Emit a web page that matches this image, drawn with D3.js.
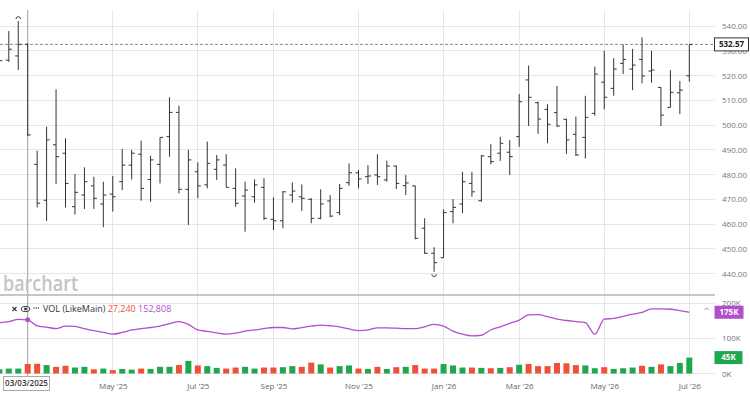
<!DOCTYPE html>
<html>
<head>
<meta charset="utf-8">
<script src="https://cdn.jsdelivr.net/npm/d3@7"></script>
<style>
    body { margin: 0; background: #fff; }
    svg { display: block; font-family: "Open Sans", sans-serif; }
</style>
</head>
<body>
<svg class="chart" width="750" height="393"></svg>
<script>
//
// Weekly OHLC bars with a volume study underneath, barchart style.
//

// One entry per weekly bar, first week starts Mon 10 Feb 2025, last Mon 6 Jul 2026.
var opens = [524, 526.2, 527.9, 532.6, 484.1, 469.6, 492, 488.6, 467, 471.7, 475.4, 468.1, 472.1, 477.1, 483.8, 488.2, 478, 484.1, 495.3, 505.1,
    474, 481.1, 475.8, 482.1, 483.8, 474.4, 471.3, 471, 474.8, 461.9, 461.3, 471.7, 471, 470, 462.3, 469.3, 464.6, 476.7, 480.7, 479.1,
    479.8, 477.8, 483.4, 475.5, 475.4, 458.3, 448.2, 446.4, 465, 468.1, 476.4, 469.4, 487.2, 488.6, 489, 495.3, 518.2, 509, 506.3, 505,
    502.3, 496.2, 495, 504.7, 517.3, 514.8, 524.9, 522.6, 526.5, 521.8, 515.2, 507.1, 513, 519.9];
var highs = [529, 538, 542, 533, 489.6, 499.3, 514.4, 494.6, 480.2, 482.9, 479.1, 477.1, 479.4, 490.3, 489.9, 493.7, 487.6, 495, 511.2, 507.8,
    490, 484.9, 493.3, 487.9, 488.2, 482.5, 477.1, 478, 478.5, 470.8, 473.3, 476.8, 476, 470.4, 474, 471.7, 476.2, 484.5, 481.8, 483.8,
    488.2, 485.6, 483.6, 479.8, 475.5, 462.3, 450.6, 465.9, 470.1, 481.1, 481.1, 487.9, 492.2, 495.3, 494, 512.5, 524, 509.4, 508.4, 515.8,
    502.5, 503.4, 511.8, 523.6, 530, 527, 532.6, 530.7, 535.4, 530, 515.2, 522.2, 517.8, 532.6];
var lows = [521, 525.5, 522.2, 495.5, 466.7, 461.2, 476.2, 466.7, 463.8, 466.1, 466.1, 458.7, 465, 473.7, 478, 469.4, 469, 476.4, 487.2, 472.4,
    459.6, 470.4, 474.4, 477.8, 474.8, 467, 456.9, 468.6, 461.6, 457.6, 458.3, 468.6, 465.3, 460.3, 461.9, 462.7, 463.6, 475.4, 474.4, 476.2,
    475.8, 477.1, 474.1, 471.7, 453.8, 447.9, 440.7, 446.4, 460.3, 464.3, 471, 469, 484.1, 485.5, 479.8, 491.2, 499.6, 496.4, 492.6, 499.3,
    488.3, 487.5, 486.5, 503.8, 506.3, 511.8, 520.6, 514.1, 516.8, 517.1, 499.6, 507.1, 504.4, 517.5];
var closes = [526, 530.6, 532.6, 496, 468.4, 494, 487.2, 476.4, 472.8, 477.1, 470.4, 471.7, 471, 483.8, 488.6, 474.4, 485.9, 495, 505.1, 474,
    485.9, 475.4, 484.5, 485.9, 474.8, 468.4, 473.7, 475.8, 462.3, 461.3, 473, 473.3, 470.4, 462.3, 468.1, 463.2, 474.4, 480.7, 478.2, 479.4,
    479.1, 483.4, 476.4, 476.6, 454.2, 448.2, 444.4, 464.6, 466.7, 477.1, 473, 487.5, 485.2, 492.6, 487.2, 509.4, 511.2, 502.4, 500.3, 499.6,
    494, 487.9, 503.1, 520.6, 511.2, 522.6, 526.5, 524.2, 519.8, 522.2, 504, 513.2, 514.1, 532.57];
var volumes = [12, 14, 14, 27.24, 27.6, 24, 19, 22, 17, 19, 12, 14, 9.5, 13, 11, 14, 13, 19, 19, 24,
    36, 23, 21, 16, 14, 17, 19, 14, 17, 17, 18, 21, 19, 31, 26, 17, 21, 23, 14, 13,
    19, 13, 18, 19, 24, 14, 14, 27, 23, 17, 17, 16, 15, 16, 18, 25, 27, 21, 21, 30,
    29, 24, 23, 15, 18, 13, 15, 17, 22, 19, 26, 21, 30, 45.3]; // thousands
var likeMain = [145, 148, 154, 152.808, 136, 132, 128, 135, 134, 128, 122, 117, 112, 117, 124, 128, 131, 135, 142, 148,
    140, 124, 120, 116, 112, 115, 121, 124, 128, 131, 131, 127, 131, 135, 138, 136, 133, 127, 122, 124,
    130, 130, 129, 128, 128, 133, 140, 135, 121, 112, 107, 109, 124, 133, 143, 152, 167, 168, 162, 155,
    151, 148, 145, 112, 155, 157, 163, 169, 174, 184, 184, 183, 179, 174.5]; // thousands

var priceTicks = [440, 450, 460, 470, 480, 490, 500, 510, 520, 530, 540];
var volumeTicks = [0, 100, 200];
var monthStarts = ["2025-05-01", "2025-07-01", "2025-09-01", "2025-11-01", "2026-01-01", "2026-03-01", "2026-05-01", "2026-07-01"];
var monthLabels = ["May '25", "Jul '25", "Sep '25", "Nov '25", "Jan '26", "Mar '26", "May '26", "Jul '26"];
var hoverIndex = 3; // The crosshair sits on the week of 03/03/2025.

var green = "#21a650", red = "#ef5138", purple = "#b14fcd";

window.onload = function () {

    var plotRight = 715; // Right edge of the panels, the axis labels sit past it.
    var plotTop = 10;

    var weeks = d3.utcMonday.range(new Date(Date.UTC(2025, 1, 10)), new Date(Date.UTC(2026, 6, 7)));
    var bars = weeks.map(function (d, i) {
        return { date: d, open: opens[i], high: highs[i], low: lows[i], close: closes[i], volume: volumes[i], likeMain: likeMain[i] };
    });

    var x = d3.scaleUtc()
        .domain([weeks[0], weeks[weeks.length - 1]])
        .range([-0.65, 689.3]);
    var y = d3.scaleLinear().domain([440, 540]).range([273.5, 26]);
    var yVol = d3.scaleLinear().domain([0, 200]).range([373.5, 303.3]);

    var monthTicks = monthStarts.map(function (s) { return d3.utcMonday.ceil(new Date(s + "T00:00:00Z")); }); // First weekly bar of each month.

    var svg = d3.select("svg.chart");

    svg.append("defs").append("clipPath").attr("id", "priceClip")
        .append("rect").attr("x", 0).attr("y", 0).attr("width", plotRight).attr("height", 295);

    // Grid.
    var grid = svg.append("g").attr("stroke", "#e6e6e6").attr("shape-rendering", "crispEdges");
    grid.selectAll(".hgrid").data(priceTicks).join("line")
        .attr("x1", 0).attr("x2", plotRight)
        .attr("y1", function (d) { return y(d); }).attr("y2", function (d) { return y(d); });
    grid.selectAll(".vgrid").data(volumeTicks).join("line")
        .attr("x1", 0).attr("x2", plotRight)
        .attr("y1", function (d) { return yVol(d); }).attr("y2", function (d) { return yVol(d); });
    grid.selectAll(".mgrid").data(monthTicks).join("line")
        .attr("x1", function (d) { return x(d); }).attr("x2", function (d) { return x(d); })
        .attr("y1", plotTop).attr("y2", 376);

    // Crosshair.
    var hx = x(weeks[hoverIndex]);
    svg.append("line")
        .attr("x1", hx).attr("x2", hx).attr("y1", plotTop).attr("y2", 376)
        .attr("stroke", "#a0a0a0").attr("stroke-width", 1);

    // Watermark.
    svg.append("text")
        .attr("x", 3).attr("y", 291)
        .attr("font-size", 21).attr("font-weight", 600)
        .attr("textLength", 75).attr("lengthAdjust", "spacingAndGlyphs")
        .attr("fill", "#c4c4c4")
        .text("barchart");

    // Panel separator.
    svg.append("line")
        .attr("x1", 0).attr("x2", plotRight).attr("y1", 295).attr("y2", 295)
        .attr("stroke", "#b4b4b4").attr("stroke-width", 1.5);

    // Last price dashed line.
    var last = bars[bars.length - 1];
    svg.append("line")
        .attr("x1", 0).attr("x2", plotRight).attr("y1", y(last.close)).attr("y2", y(last.close))
        .attr("stroke", "#8a8a8a").attr("stroke-dasharray", "3,2");

    // OHLC bars.
    var barG = svg.append("g")
        .attr("clip-path", "url(#priceClip)")
        .attr("stroke", "#333").attr("stroke-width", 1);
    var bar = barG.selectAll("g").data(bars).join("g")
        .attr("transform", function (d) { return "translate(" + x(d.date) + ",0)"; });
    bar.append("line")
        .attr("y1", function (d) { return y(d.high); })
        .attr("y2", function (d) { return y(d.low); });
    bar.append("line") // Open tick on the left.
        .attr("x1", -3).attr("x2", 0)
        .attr("y1", function (d) { return y(d.open); })
        .attr("y2", function (d) { return y(d.open); });
    bar.append("line") // Close tick on the right.
        .attr("x1", 0).attr("x2", 3)
        .attr("y1", function (d) { return y(d.close); })
        .attr("y2", function (d) { return y(d.close); });

    // High and low markers.
    var hi = bars[d3.maxIndex(bars, function (d) { return d.high; })];
    var lo = bars[d3.minIndex(bars, function (d) { return d.low; })];
    svg.append("path")
        .attr("d", "M" + (x(hi.date) - 2.3) + "," + (y(hi.high) - 2) + " a2.3,2.3 0 0 1 4.6,0")
        .attr("fill", "none").attr("stroke", "#444");
    svg.append("path")
        .attr("d", "M" + (x(lo.date) - 2.3) + "," + (y(lo.low) + 2.5) + " a2.3,2.3 0 0 0 4.6,0")
        .attr("fill", "none").attr("stroke", "#444");

    // Volume bars.
    svg.append("g").selectAll("rect").data(bars).join("rect")
        .attr("x", function (d) { return x(d.date) - 3; })
        .attr("width", 6)
        .attr("y", function (d) { return yVol(d.volume); })
        .attr("height", function (d) { return yVol(0) - yVol(d.volume); })
        .attr("fill", function (d) { return d.close >= d.open ? green : red; });

    // LikeMain line.
    var line = d3.line()
        .x(function (d) { return x(d.date); })
        .y(function (d) { return yVol(d.likeMain); })
        .curve(d3.curveMonotoneX);
    svg.append("path")
        .datum(bars)
        .attr("d", line)
        .attr("fill", "none").attr("stroke", purple).attr("stroke-width", 1.3);
    svg.append("circle")
        .attr("cx", hx).attr("cy", yVol(bars[hoverIndex].likeMain)).attr("r", 2.5)
        .attr("fill", purple);

    // Price axis.
    var priceAxis = svg.append("g")
        .attr("transform", "translate(718,0)")
        .call(d3.axisRight(y).tickValues(priceTicks).tickFormat(d3.format(".2f")).tickSize(0).tickPadding(4));
    priceAxis.select(".domain").remove();
    priceAxis.selectAll("text").attr("font-size", 8).attr("fill", "#777").attr("font-family", "Open Sans");

    // Volume axis.
    var volAxis = svg.append("g")
        .attr("transform", "translate(718,0)")
        .call(d3.axisRight(yVol).tickValues(volumeTicks).tickFormat(function (d) { return d + "K"; }).tickSize(0).tickPadding(4));
    volAxis.select(".domain").remove();
    volAxis.selectAll("text").attr("font-size", 8).attr("fill", "#777").attr("font-family", "Open Sans");

    // Time axis.
    var timeAxis = svg.append("g")
        .attr("transform", "translate(0,381)")
        .call(d3.axisBottom(x).tickValues(monthTicks).tickFormat(function (d, i) { return monthLabels[i]; }).tickSize(0).tickPadding(2));
    timeAxis.select(".domain").remove();
    timeAxis.selectAll("text").attr("font-size", 8).attr("fill", "#666").attr("font-family", "Open Sans");

    // Helper to add a value box on the right edge.
    function addValueBox (cy, text, fill, stroke, textFill, w) {
        var g = svg.append("g");
        g.append("rect")
            .attr("x", 714.5).attr("y", cy - 6.5).attr("width", w).attr("height", 13)
            .attr("fill", fill).attr("stroke", stroke);
        g.append("text")
            .attr("x", 714.5 + w / 2).attr("y", cy).attr("dy", "0.35em")
            .attr("text-anchor", "middle")
            .attr("font-size", 8).attr("font-weight", 700)
            .attr("fill", textFill)
            .text(text);
    }

    addValueBox(y(last.close), d3.format(".2f")(last.close), "#fff", "#333", "#222", 34);
    addValueBox(yVol(last.likeMain), Math.round(last.likeMain) + "K", purple, "none", "#fff", 29);
    addValueBox(yVol(last.volume), Math.round(last.volume) + "K", green, "none", "#fff", 28);

    svg.append("path") // Collapse caret.
        .attr("d", "M704.5,310 L706.7,307.8 L708.9,310")
        .attr("fill", "none").attr("stroke", "#999");

    // Crosshair date box.
    svg.append("rect")
        .attr("x", 3.5).attr("y", 376.5).attr("width", 46).attr("height", 14)
        .attr("fill", "#fff").attr("stroke", "#aaa");
    svg.append("text")
        .attr("x", 26.5).attr("y", 383.5).attr("dy", "0.35em")
        .attr("text-anchor", "middle")
        .attr("font-size", 8).attr("font-weight", 600).attr("fill", "#333")
        .text(d3.utcFormat("%m/%d/%Y")(weeks[hoverIndex]));

    // Study legend.
    var legend = svg.append("g").attr("stroke", "#333");
    legend.append("path").attr("d", "M12.5,307 L16.5,311 M16.5,307 L12.5,311").attr("stroke-width", 1.1);
    legend.append("ellipse").attr("cx", 25.5).attr("cy", 309).attr("rx", 4.3).attr("ry", 2.6).attr("fill", "none");
    legend.append("circle").attr("cx", 25.5).attr("cy", 309).attr("r", 1.4).attr("fill", "#333").attr("stroke", "none");
    legend.selectAll(".dot").data([34, 36.2, 38.4]).join("circle")
        .attr("cx", function (d) { return d; }).attr("cy", 308).attr("r", 0.7)
        .attr("fill", "#333").attr("stroke", "none");

    var legendText = svg.append("text")
        .attr("x", 43).attr("y", 312)
        .attr("font-size", 9);
    legendText.append("tspan").attr("fill", "#333").text("VOL (LikeMain) ");
    legendText.append("tspan").attr("fill", red).text(d3.format(",")(Math.round(bars[hoverIndex].volume * 1000)) + " ");
    legendText.append("tspan").attr("fill", purple).text(d3.format(",")(Math.round(bars[hoverIndex].likeMain * 1000)));
};
</script>
</body>
</html>
